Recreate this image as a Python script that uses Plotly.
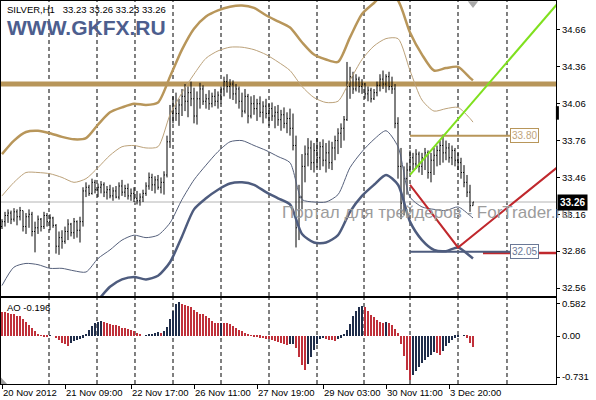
import plotly.graph_objects as go

# ---------------- data ----------------
OPEN = [33.06,33.10,33.15,33.17,33.12,33.18,33.14,33.19,33.06,33.14,33.16,33.02,33.05,33.12,33.06,33.15,33.10,33.13,33.07,32.90,
        32.97,32.94,33.02,33.08,33.01,33.10,33.03,33.10,33.35,33.38,33.33,33.42,33.36,33.38,33.40,33.34,33.36,33.31,33.35,33.30,
        33.39,33.34,33.37,33.31,33.33,33.29,33.27,33.30,33.33,33.39,33.46,33.40,33.44,33.38,33.42,33.48,33.75,33.98,34.02,33.98,
        34.05,34.12,34.08,34.15,34.10,33.96,34.10,34.18,34.08,34.10,34.06,34.12,34.08,34.13,34.18,34.24,34.20,34.22,34.14,34.18,
        34.08,34.00,34.12,33.96,34.06,34.02,34.06,33.99,34.04,33.98,34.02,33.96,33.99,33.93,33.97,33.90,33.94,33.86,33.72,33.05,
        33.30,33.55,33.65,33.70,33.58,33.68,33.62,33.71,33.60,33.66,33.58,33.70,33.76,33.82,33.86,33.93,34.20,34.28,34.18,34.26,
        34.20,34.22,34.14,34.17,34.10,34.15,34.21,34.26,34.22,34.28,34.20,34.18,33.90,33.55,33.25,33.45,33.52,33.62,33.57,33.65,
        33.55,33.62,33.66,33.50,33.60,33.64,33.68,33.72,33.66,33.70,33.62,33.68,33.60,33.58,33.50,33.42,33.34,33.23]
HIGH = [33.12,33.18,33.20,33.19,33.21,33.20,33.22,33.19,33.17,33.20,33.18,33.10,33.15,33.13,33.18,33.17,33.16,33.14,33.08,33.02,
        33.03,33.06,33.12,33.09,33.13,33.11,33.14,33.38,33.42,33.40,33.45,33.44,33.41,33.43,33.42,33.39,33.40,33.38,33.39,33.42,
        33.44,33.40,33.41,33.37,33.38,33.35,33.33,33.36,33.42,33.50,33.49,33.47,33.48,33.46,33.51,33.80,34.05,34.12,34.15,34.10,
        34.18,34.22,34.20,34.24,34.19,34.16,34.23,34.21,34.14,34.17,34.15,34.18,34.16,34.20,34.28,34.30,34.26,34.25,34.22,34.20,
        34.15,34.18,34.14,34.12,34.13,34.10,34.12,34.08,34.10,34.06,34.07,34.04,34.05,34.01,34.03,33.99,34.02,33.98,33.80,33.40,
        33.65,33.72,33.78,33.76,33.74,33.78,33.75,33.77,33.74,33.76,33.75,33.80,33.86,33.90,33.96,34.40,34.36,34.32,34.30,34.28,
        34.26,34.23,34.20,34.19,34.18,34.24,34.30,34.33,34.30,34.32,34.28,34.22,33.95,33.70,33.55,33.58,33.68,33.66,33.69,33.67,
        33.66,33.70,33.68,33.66,33.70,33.72,33.76,33.81,33.76,33.74,33.72,33.70,33.66,33.62,33.56,33.48,33.40,33.26]
LOW = [33.04,33.06,33.09,33.08,33.10,33.07,33.11,33.02,33.00,33.05,32.98,32.85,33.00,33.02,33.04,33.06,33.03,33.05,32.84,32.83,
       32.88,32.92,32.95,32.98,32.96,32.97,32.93,33.06,33.30,33.31,33.32,33.33,33.30,33.33,33.30,33.28,33.29,33.27,33.29,33.28,
       33.31,33.30,33.28,33.27,33.26,33.24,33.23,33.26,33.31,33.36,33.35,33.33,33.36,33.33,33.32,33.46,33.70,33.90,33.92,33.88,
       33.96,34.00,33.95,34.04,33.90,33.89,34.02,34.05,34.02,34.01,34.03,34.04,34.02,34.06,34.12,34.15,34.10,34.09,34.06,34.02,
       33.95,33.98,33.90,33.94,33.97,33.92,33.95,33.90,33.94,33.88,33.92,33.86,33.88,33.84,33.86,33.82,33.80,33.68,32.89,32.95,
       33.20,33.42,33.55,33.52,33.50,33.54,33.52,33.55,33.50,33.53,33.52,33.60,33.65,33.70,33.76,33.92,34.10,34.14,34.16,34.15,
       34.14,34.10,34.08,34.07,34.09,34.12,34.16,34.18,34.15,34.17,34.14,33.86,33.45,33.12,33.15,33.32,33.50,33.52,33.53,33.50,
       33.48,33.52,33.45,33.42,33.48,33.55,33.56,33.58,33.60,33.58,33.56,33.55,33.52,33.45,33.38,33.30,33.18,33.23]
CLOSE = [33.10,33.15,33.17,33.12,33.18,33.14,33.19,33.06,33.14,33.16,33.02,33.05,33.12,33.06,33.15,33.10,33.13,33.07,32.90,32.97,
         32.94,33.02,33.08,33.01,33.10,33.03,33.10,33.35,33.38,33.33,33.42,33.36,33.38,33.40,33.34,33.36,33.31,33.35,33.30,33.39,
         33.34,33.37,33.31,33.33,33.29,33.27,33.30,33.33,33.39,33.46,33.40,33.44,33.38,33.42,33.48,33.75,33.98,34.02,33.98,34.05,
         34.12,34.08,34.15,34.10,33.96,34.10,34.18,34.08,34.10,34.06,34.12,34.08,34.13,34.18,34.24,34.20,34.22,34.14,34.18,34.08,
         34.00,34.12,33.96,34.06,34.02,34.06,33.99,34.04,33.98,34.02,33.96,33.99,33.93,33.97,33.90,33.94,33.86,33.72,33.05,33.30,
         33.55,33.65,33.70,33.58,33.68,33.62,33.71,33.60,33.66,33.58,33.70,33.76,33.82,33.86,33.93,34.20,34.28,34.18,34.26,34.20,
         34.22,34.14,34.17,34.10,34.15,34.21,34.26,34.22,34.28,34.20,34.18,33.90,33.55,33.25,33.45,33.52,33.62,33.57,33.65,33.55,
         33.62,33.66,33.50,33.60,33.64,33.68,33.72,33.66,33.70,33.62,33.68,33.60,33.58,33.50,33.42,33.34,33.23,33.26]

AO = [0.43,0.42,0.41,0.40,0.39,0.36,0.35,0.30,0.25,0.20,0.15,0.09,0.03,0.01,-0.01,-0.01,0.01,0.00,-0.04,-0.08,
      -0.12,-0.15,-0.17,-0.12,-0.09,-0.07,-0.05,-0.03,0.03,0.10,0.18,0.23,0.25,0.26,0.25,0.24,0.22,0.20,0.19,0.17,
      0.15,0.14,0.12,0.11,0.09,0.06,0.03,0.00,0.01,0.02,0.03,0.05,0.07,0.06,0.08,0.16,0.30,0.45,0.57,0.60,
      0.57,0.55,0.54,0.51,0.47,0.42,0.40,0.39,0.36,0.32,0.27,0.24,0.23,0.24,0.24,0.23,0.22,0.18,0.14,0.11,
      0.08,0.06,0.03,0.01,-0.01,-0.02,-0.03,-0.04,-0.05,-0.06,-0.07,-0.09,-0.11,-0.13,-0.15,-0.16,-0.15,-0.14,-0.22,-0.38,
      -0.52,-0.60,-0.50,-0.38,-0.25,-0.14,-0.05,-0.04,-0.05,-0.07,-0.08,-0.09,-0.06,-0.03,0.02,0.10,0.22,0.35,0.45,0.52,
      0.53,0.52,0.45,0.38,0.33,0.28,0.25,0.24,0.25,0.24,0.20,0.13,0.05,-0.15,-0.35,-0.60,-0.78,-0.70,-0.62,-0.55,
      -0.48,-0.42,-0.37,-0.33,-0.29,-0.31,-0.33,-0.26,-0.18,-0.12,-0.07,-0.03,-0.01,0.00,0.01,-0.03,-0.12,-0.196]

BAND_IDX = list(range(0, 157, 4)) + [157]
UPPER_OUTER = [33.65,33.76,33.83,33.84,33.82,33.79,33.77,33.78,33.89,33.99,34.03,34.06,34.05,34.07,34.28,34.50,34.67,34.77,34.82,34.85,
               34.86,34.84,34.78,34.73,34.68,34.56,34.46,34.42,34.40,34.60,34.79,34.88,34.97,34.90,34.64,34.46,34.33,34.35,34.36,34.27,34.25]
UPPER_INNER = [33.31,33.42,33.50,33.50,33.49,33.46,33.42,33.45,33.54,33.64,33.71,33.72,33.70,33.71,33.97,34.15,34.30,34.43,34.49,34.52,
               34.52,34.50,34.46,34.40,34.33,34.20,34.11,34.07,34.08,34.25,34.42,34.53,34.59,34.59,34.33,34.09,34.00,34.02,34.03,33.94,33.91]
LOWER_INNER = [32.58,32.73,32.76,32.75,32.72,32.72,32.70,32.69,32.80,32.87,32.95,32.99,32.97,32.99,33.09,33.28,33.44,33.56,33.67,33.75,
               33.76,33.72,33.68,33.63,33.58,33.28,33.26,33.26,33.32,33.54,33.67,33.77,33.84,33.71,33.30,33.22,33.20,33.19,33.22,33.15,33.13]
LOWER_OUTER = [32.22,32.32,32.36,32.36,32.34,32.32,32.30,32.34,32.46,32.57,32.63,32.65,32.63,32.66,32.77,32.98,33.20,33.29,33.36,33.41,
               33.42,33.40,33.34,33.29,33.24,33.00,32.93,32.93,32.99,33.18,33.31,33.40,33.48,33.40,33.10,32.95,32.87,32.86,32.89,32.82,32.80]

TIME_TICK_IDX = [0, 21, 43, 64, 85, 107, 128, 149]
TIME_TICK_TEXT = ["20 Nov 2012", "21 Nov 09:00", "22 Nov 17:00", "26 Nov 11:00",
                  "27 Nov 19:00", "29 Nov 03:00", "30 Nov 11:00", "3 Dec 20:00"]
PRICE_TICKS = [34.66, 34.36, 34.06, 33.76, 33.46, 33.16, 32.86, 32.56]
AO_TICKS = [0.582, 0.0, -0.731]
AO_TICK_TEXT = ["0.582", "0.00", "-0.731"]

RESISTANCE = 34.22
LAST_PRICE = 33.26
GREEN_X, GREEN_Y = [136, 185], [33.48, 34.87]
RED_X, RED_Y = [136, 152, 185], [33.40, 32.89, 33.54]
LEVEL_HI_X, LEVEL_HI_Y, LEVEL_HI_TEXT = [136, 169.33], [33.80, 33.80], "33.80"
LEVEL_LO_X, LEVEL_LO_Y, LEVEL_LO_TEXT = [136, 169.33], [32.855, 32.855], "32.05"
RED_FLAT_X, RED_FLAT_Y = [160.33, 185], [32.845, 32.845]

# ---------------- layout constants ----------------
GRID_IDX = [15.67, 31.67, 44.33, 57, 73, 89, 105, 120.67, 136, 152, 168.33]
XR = [-0.333, 184.667]
FONT = "Liberation Sans, Arial, sans-serif"
TAN = "#B8965A"
TAN_THIN = "#BCA27A"
BLUE = "#4E5C7E"
BLUE_THIN = "#56617C"
RED = "#C0282D"
AO_RED = "#C0303A"
AO_NAVY = "#1F2D4A"

idx = list(range(len(CLOSE)))
ao_colors = [AO_RED] + [AO_NAVY if AO[k] > AO[k - 1] else AO_RED for k in range(1, len(AO))]

fig = go.Figure()

def band(y, color, width):
    fig.add_trace(go.Scatter(x=BAND_IDX, y=y, mode="lines", hoverinfo="skip",
                             line=dict(color=color, width=width, shape="spline", smoothing=0.7),
                             xaxis="x", yaxis="y"))

band(UPPER_OUTER, TAN, 2.5)
band(UPPER_INNER, TAN_THIN, 1)
band(LOWER_INNER, BLUE_THIN, 1)
band(LOWER_OUTER, BLUE, 2.5)

fig.add_trace(go.Ohlc(x=idx, open=OPEN, high=HIGH, low=LOW, close=CLOSE,
                      increasing=dict(line=dict(color="black", width=1)),
                      decreasing=dict(line=dict(color="black", width=1)),
                      tickwidth=0.3, hoverinfo="skip", xaxis="x", yaxis="y"))

fig.add_trace(go.Scatter(x=RED_FLAT_X, y=RED_FLAT_Y, mode="lines", line=dict(color=RED, width=2.5),
                         hoverinfo="skip", xaxis="x", yaxis="y"))
fig.add_trace(go.Scatter(x=LEVEL_HI_X, y=LEVEL_HI_Y, mode="lines", line=dict(color=TAN, width=2),
                         hoverinfo="skip", xaxis="x", yaxis="y"))
fig.add_trace(go.Scatter(x=LEVEL_LO_X, y=LEVEL_LO_Y, mode="lines", line=dict(color=BLUE, width=2),
                         hoverinfo="skip", xaxis="x", yaxis="y"))
fig.add_trace(go.Scatter(x=GREEN_X, y=GREEN_Y, mode="lines", line=dict(color="#7FE01E", width=2),
                         hoverinfo="skip", xaxis="x", yaxis="y"))
fig.add_trace(go.Scatter(x=RED_X, y=RED_Y, mode="lines", line=dict(color=RED, width=2),
                         hoverinfo="skip", xaxis="x", yaxis="y"))

# shift marker at the last bar (top edge)
fig.add_trace(go.Scatter(x=[idx[-1]], y=[34.875], mode="markers", cliponaxis=False, hoverinfo="skip",
                         marker=dict(symbol="triangle-down", size=9, color="#A8A8A8"),
                         xaxis="x", yaxis="y"))

fig.add_trace(go.Bar(x=idx, y=AO, marker=dict(color=ao_colors, line=dict(width=0)), width=0.45,
                     hoverinfo="skip", xaxis="x2", yaxis="y2"))

shapes = []
for g in GRID_IDX:
    for xr, yr in (("x", "y domain"), ("x2", "y2 domain")):
        shapes.append(dict(type="line", xref=xr, yref=yr, x0=g, x1=g, y0=0, y1=1, layer="below",
                           line=dict(color="black", width=1, dash="4px,3px")))
shapes.append(dict(type="line", xref="x domain", yref="y", x0=0, x1=1, y0=LAST_PRICE, y1=LAST_PRICE,
                   layer="below", line=dict(color="#B4B4B4", width=1)))
shapes.append(dict(type="line", xref="x domain", yref="y", x0=0, x1=1, y0=RESISTANCE, y1=RESISTANCE,
                   layer="below", line=dict(color=TAN, width=5)))
shapes.append(dict(type="line", xref="x domain", yref="y", x0=1.0025, x1=1.0025, y0=33.93, y1=34.04,
                   layer="above", line=dict(color="black", width=3)))
shapes.append(dict(type="path", xref="x domain", yref="y2 domain", path="M 0,0 L 0.011,0 L 0,0.075 Z",
                   fillcolor="#A0A0A0", line=dict(width=0), layer="above"))

annotations = [
    dict(xref="paper", yref="paper", x=0, y=0.979, xshift=4, xanchor="left", yanchor="middle", showarrow=False,
         text="SILVER,H1\u00a0\u00a0 33.23 33.26 33.23 33.26", font=dict(family=FONT, size=9.5, color="black")),
    dict(xref="paper", yref="paper", x=0, y=0.932, xshift=4, xanchor="left", yanchor="middle", showarrow=False,
         text="WWW.GKFX.RU", font=dict(family=FONT, size=21, color="#4D5E8E", weight="bold")),
    dict(xref="paper", yref="paper", x=0, y=0.201, xshift=4, xanchor="left", yanchor="middle", showarrow=False,
         text="AO -0.196", font=dict(family=FONT, size=9.5, color="black")),
    dict(xref="paper", yref="paper", x=0.503, y=0.449, xshift=0, xanchor="left", yanchor="middle", showarrow=False,
         text="Портал для трейдеров - ForTrader.ru", font=dict(family=FONT, size=17, color="#9C9C9C")),
    dict(xref="x", yref="y", x=LEVEL_HI_X[1], y=LEVEL_HI_Y[1], xanchor="left", yanchor="middle", showarrow=False,
         text=LEVEL_HI_TEXT, bgcolor="white", bordercolor=TAN, borderwidth=1, borderpad=1,
         font=dict(family=FONT, size=10, color="#BFA47A")),
    dict(xref="x", yref="y", x=LEVEL_LO_X[1], y=LEVEL_LO_Y[1], xanchor="left", yanchor="middle", showarrow=False,
         text=LEVEL_LO_TEXT, bgcolor="white", bordercolor="#6A7896", borderwidth=1, borderpad=1,
         font=dict(family=FONT, size=10, color="#6A7896")),
    dict(xref="paper", yref="y", x=1, y=LAST_PRICE, xshift=1, xanchor="left", yanchor="middle", showarrow=False,
         text="<b>33.26</b>", bgcolor="black", borderpad=2,
         font=dict(family=FONT, size=10, color="white")),
]

axis_common = dict(showgrid=False, zeroline=False, showline=True, mirror=True, linecolor="black", linewidth=1,
                   tickfont=dict(family=FONT, size=9.5, color="black"), tickcolor="black")

fig.update_layout(
    width=596, height=400, margin=dict(l=1, r=40, t=1, b=16),
    paper_bgcolor="white", plot_bgcolor="white", showlegend=False, hovermode=False,
    bargap=0,
    xaxis=dict(domain=[0, 1], range=XR, anchor="y", showticklabels=False, ticks="",
               rangeslider=dict(visible=False), **axis_common),
    yaxis=dict(domain=[0.2298, 1], range=[32.495, 34.896], side="right", anchor="x",
               tickvals=PRICE_TICKS, ticktext=[f"{v:.2f}" for v in PRICE_TICKS],
               ticks="outside", ticklen=3, **axis_common),
    xaxis2=dict(domain=[0, 1], range=XR, anchor="y2", tickvals=TIME_TICK_IDX, ticktext=TIME_TICK_TEXT,
                ticks="outside", ticklen=4, tickangle=0, ticklabelposition="outside right", **axis_common),
    yaxis2=dict(domain=[0, 0.2245], range=[-0.854, 0.676], side="right", anchor="x2",
                tickvals=AO_TICKS, ticktext=AO_TICK_TEXT, ticks="outside", ticklen=3, **axis_common),
    shapes=shapes, annotations=annotations,
)

fig.write_html("out.html", config={"displayModeBar": False},
               post_script="document.body.style.margin='0';document.body.style.overflow='hidden';")
